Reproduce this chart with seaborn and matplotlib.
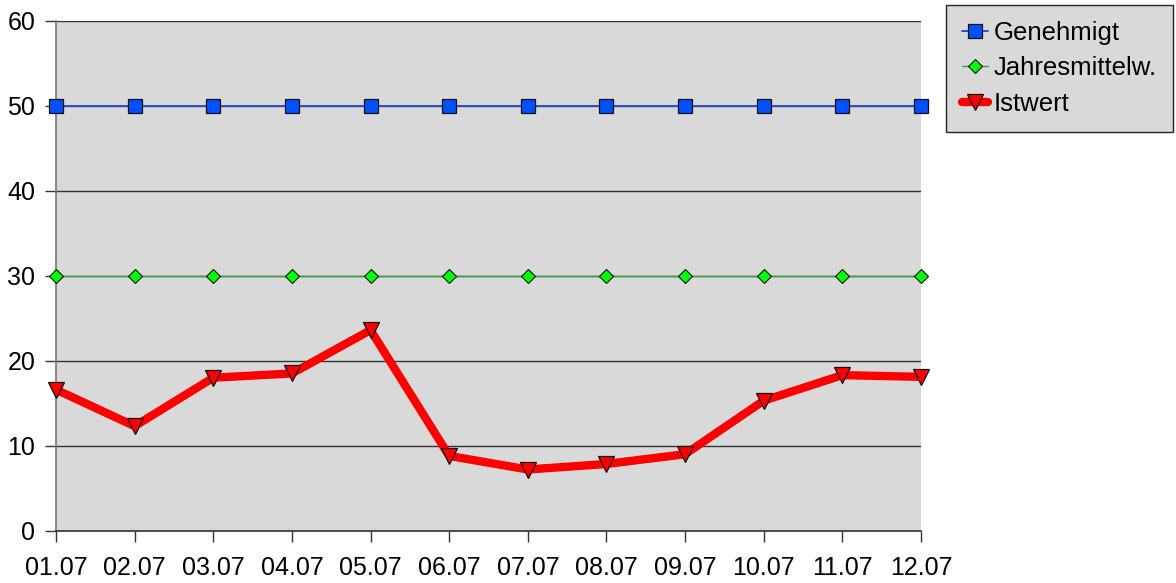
import matplotlib
matplotlib.use("Agg")
import matplotlib.pyplot as plt
import seaborn as sns
import pandas as pd

dates = ["01.07", "02.07", "03.07", "04.07", "05.07", "06.07",
         "07.07", "08.07", "09.07", "10.07", "11.07", "12.07"]
genehmigt = [50, 50, 50, 50, 50, 50, 50, 50, 50, 50, 50, 50]
jahresmittel = [30, 30, 30, 30, 30, 30, 30, 30, 30, 30, 30, 30]
istwert = [16.6, 12.3, 18.0, 18.5, 23.6, 8.8, 7.2, 7.85, 9.0, 15.3, 18.3, 18.1]

yticks = [0, 10, 20, 30, 40, 50, 60]

sns.set_theme(style="white")
plt.rcParams["font.family"] = ["Liberation Sans", "DejaVu Sans"]
plt.rcParams["text.color"] = "black"

fig = plt.figure(figsize=(11.76, 5.83), dpi=100)
ax = fig.add_axes([56 / 1176, 1 - 530.7 / 583, (921 - 56) / 1176, (530.7 - 20.7) / 583])
ax.set_facecolor("#d9d9d9")

df = pd.DataFrame({"Datum": dates, "Genehmigt": genehmigt,
                   "Jahresmittelw.": jahresmittel, "Istwert": istwert})

sns.lineplot(data=df, x="Datum", y="Genehmigt", ax=ax, color="#2a50c8", linewidth=1.4,
             marker="s", markersize=10, markerfacecolor="#0050ff", markeredgecolor="#111111",
             markeredgewidth=0.9, label="Genehmigt", zorder=4, clip_on=False)
sns.lineplot(data=df, x="Datum", y="Jahresmittelw.", ax=ax, color="#3aa03a", linewidth=1.0,
             marker="D", markersize=7, markerfacecolor="#00ff00", markeredgecolor="#111111",
             markeredgewidth=0.8, label="Jahresmittelw.", zorder=4, clip_on=False)
sns.lineplot(data=df, x="Datum", y="Istwert", ax=ax, color="#ff0000", linewidth=6,
             marker="v", markersize=11, markerfacecolor="#ff0000", markeredgecolor="#111111",
             markeredgewidth=0.9, label="Istwert", zorder=5, clip_on=False)

ax.set_xlim(0, len(dates) - 1)
ax.set_ylim(0, 60)
ax.set_yticks(yticks)
ax.set_xlabel("")
ax.set_ylabel("")

ax.grid(axis="y", color="#333333", linewidth=1.0)
ax.grid(axis="x", visible=False)
ax.set_axisbelow(True)

for side in ["top", "right"]:
    ax.spines[side].set_visible(False)
ax.spines["left"].set_color("#777777")
ax.spines["left"].set_linewidth(1.2)
ax.spines["bottom"].set_color("#333333")
ax.spines["bottom"].set_linewidth(1.2)

ax.tick_params(axis="both", which="both", direction="out", length=8, width=1.0,
               color="#333333", labelsize=18, labelcolor="black",
               bottom=True, left=True)
ax.tick_params(axis="x", pad=10)
ax.tick_params(axis="y", pad=7)

leg = ax.legend(loc="upper left", bbox_to_anchor=(946 / 1176, 1 - 5 / 583),
                bbox_transform=fig.transFigure, frameon=True, fancybox=False,
                fontsize=18.5, handlelength=1.0, handletextpad=0.25,
                labelspacing=0.45, borderpad=0.62, borderaxespad=0,
                labelcolor="black")
leg.get_frame().set_facecolor("#d9d9d9")
leg.get_frame().set_edgecolor("#222222")
leg.get_frame().set_linewidth(1.0)
leg.get_frame().set_alpha(1)

fig.savefig("out.png", dpi=100)
